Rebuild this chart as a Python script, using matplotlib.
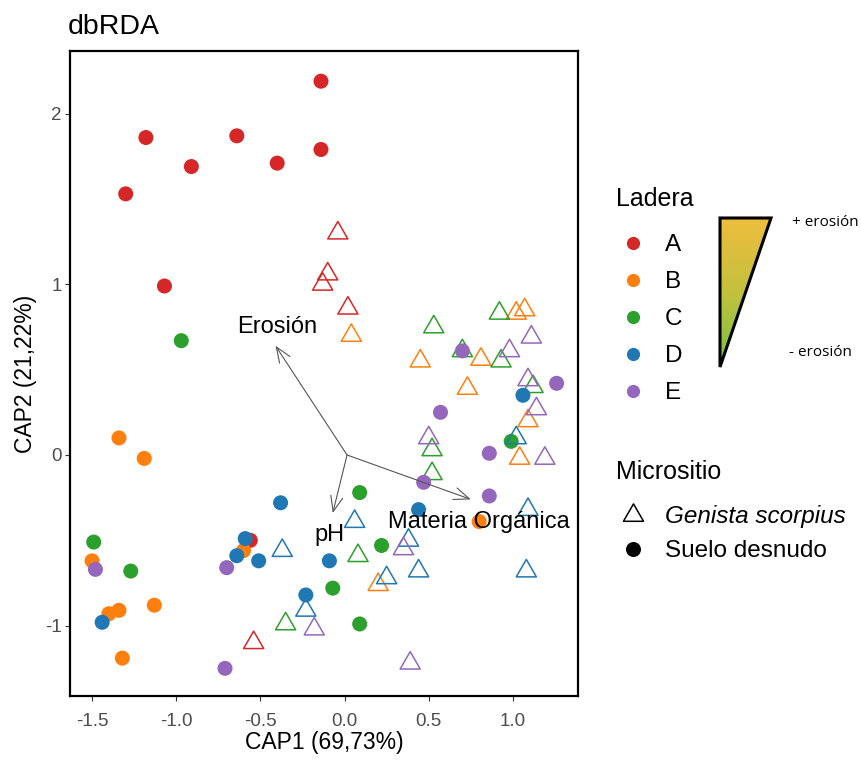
import numpy as np
import matplotlib
matplotlib.use("Agg")
import matplotlib.pyplot as plt
from matplotlib.lines import Line2D
from matplotlib.path import Path
from matplotlib.patches import Polygon
from matplotlib.colors import LinearSegmentedColormap

plt.rcParams['font.family'] = ['Liberation Sans', 'DejaVu Sans']
plt.rcParams['axes.unicode_minus'] = False

# --- data ---
laderas = ['A', 'B', 'C', 'D', 'E']
ladera_colors = {'A': '#d62728', 'B': '#ff7f0e', 'C': '#2ca02c', 'D': '#1f77b4', 'E': '#9467bd'}
micrositios = ['Genista scorpius', 'Suelo desnudo']

ladera = (['A'] * 5 + ['A'] * 9 + ['B'] * 9 + ['B'] * 9 + ['C'] * 9 + ['C'] * 8
          + ['D'] * 9 + ['D'] * 9 + ['E'] * 9 + ['E'] * 9)
micrositio = (['G'] * 5 + ['S'] * 9 + ['G'] * 9 + ['S'] * 9 + ['G'] * 9 + ['S'] * 8
              + ['G'] * 9 + ['S'] * 9 + ['G'] * 9 + ['S'] * 9)
cap1 = [-0.04, -0.10, -0.13, 0.02, -0.54,
        -0.14, -1.18, -0.64, -0.91, -0.40, -0.14, -1.30, -1.07, -0.56,
        0.04, 0.45, 0.81, 0.73, 1.02, 1.07, 1.09, 1.04, 0.20,
        0.80, -1.34, -1.19, -1.50, -1.40, -1.34, -1.13, -1.32, -0.60,
        0.53, 0.92, 0.70, 0.93, 1.12, 0.52, 0.52, 0.08, -0.35,
        -0.97, 0.09, 0.22, -0.07, 0.09, -1.49, -1.27, 0.99,
        1.02, 1.09, 1.08, 0.06, 0.38, 0.44, 0.25, -0.37, -0.23,
        1.06, -0.38, -0.59, -0.64, -0.51, -0.09, -0.23, 0.44, -1.44,
        1.11, 0.98, 1.09, 1.14, 0.50, 1.19, 0.35, -0.18, 0.39,
        1.26, 0.57, 0.70, 0.86, 0.47, 0.86, -0.70, -0.71, -1.48]
cap2 = [1.30, 1.06, 1.00, 0.86, -1.10,
        2.19, 1.86, 1.87, 1.69, 1.71, 1.79, 1.53, 0.99, -0.50,
        0.70, 0.55, 0.56, 0.39, 0.83, 0.85, 0.20, -0.02, -0.76,
        -0.39, 0.10, -0.02, -0.62, -0.93, -0.91, -0.88, -1.19, -0.56,
        0.75, 0.83, 0.61, 0.55, 0.40, 0.03, -0.11, -0.59, -0.99,
        0.67, -0.22, -0.53, -0.78, -0.99, -0.51, -0.68, 0.08,
        0.10, -0.32, -0.68, -0.39, -0.50, -0.68, -0.72, -0.56, -0.91,
        0.35, -0.28, -0.49, -0.59, -0.62, -0.62, -0.82, -0.32, -0.98,
        0.69, 0.61, 0.44, 0.27, 0.10, -0.02, -0.55, -1.02, -1.22,
        0.42, 0.25, 0.61, 0.01, -0.16, -0.24, -0.66, -1.25, -0.67]

# environmental vectors
vec_names = ['Erosión', 'pH', 'Materia Orgánica']
vec_origin = (0.015, 0.0)
vec_x = [-0.41, -0.07, 0.75]
vec_y = [0.64, -0.34, -0.26]
lab_x = [-0.40, -0.09, 0.80]
lab_y = [0.75, -0.47, -0.39]

# equilateral open triangle like ggplot shape 2
tri = Path([(-1, -0.577), (1, -0.577), (0, 1.155), (-1, -0.577)],
           [Path.MOVETO, Path.LINETO, Path.LINETO, Path.CLOSEPOLY])

W, H = 862, 762
fig = plt.figure(figsize=(W / 100, H / 100), dpi=100)
ax = fig.add_axes([70 / W, 66 / H, 508 / W, 645 / H])

x = np.array(cap1)
y = np.array(cap2)
lad = np.array(ladera)
mic = np.array(micrositio)
for l in laderas:
    c = ladera_colors[l]
    m = (lad == l) & (mic == 'G')
    ax.scatter(x[m], y[m], marker=tri, s=280, facecolors='none', edgecolors=c, linewidths=1.1, zorder=2)
    m = (lad == l) & (mic == 'S')
    ax.scatter(x[m], y[m], marker='o', s=117, color=c, edgecolors='none', zorder=2)

for name, vx, vy, tx, ty in zip(vec_names, vec_x, vec_y, lab_x, lab_y):
    ax.annotate('', xy=(vx, vy), xytext=vec_origin,
                arrowprops=dict(arrowstyle='->, head_length=0.55, head_width=0.22',
                                color='#555555', lw=0.8, mutation_scale=20,
                                shrinkA=0, shrinkB=0), zorder=3)
    ax.text(tx, ty, name, ha='center', va='center', fontsize=17, color='black', zorder=4)

ax.set_xlim(-1.631, 1.387)
ax.set_ylim(-1.412, 2.367)
ax.set_xticks([-1.5, -1.0, -0.5, 0.0, 0.5, 1.0])
ax.set_xticklabels(['-1.5', '-1.0', '-0.5', '0.0', '0.5', '1.0'])
ax.set_yticks([-1, 0, 1, 2])
ax.tick_params(direction='out', length=3.5, width=0.8, color='#333333',
               labelcolor='#4D4D4D', labelsize=13.5)
ax.tick_params(axis='x', pad=8.5)
ax.tick_params(axis='y', pad=2.5)
for sp in ax.spines.values():
    sp.set_linewidth(1.6)
    sp.set_color('black')
ax.set_xlabel('CAP1 (69,73%)', fontsize=16.5, labelpad=1)
ax.set_ylabel('CAP2 (21,22%)', fontsize=16.5, labelpad=5.5)
fig.text(68 / W, 1 - 34 / H, 'dbRDA', fontsize=20.5, ha='left', va='baseline')

# legends
h1 = [Line2D([], [], ls='', marker='o', markersize=9.5, color=ladera_colors[l], mec='none') for l in laderas]
leg1 = fig.legend(h1, laderas, title='Ladera', loc='upper left',
                  bbox_to_anchor=(616 / W, 1 - 187 / H), frameon=False, fontsize=17.5,
                  title_fontsize=18, alignment='left', borderpad=0, borderaxespad=0,
                  handlelength=1.4, handletextpad=0.6, labelspacing=0.62)
leg1._legend_box.sep = 16.6  # extra gap between title and keys
h2 = [Line2D([], [], ls='', marker=tri, markersize=16.7, mfc='none', mec='black', mew=1.1),
      Line2D([], [], ls='', marker='o', markersize=10.8, color='black', mec='none')]
leg2 = fig.legend(h2, micrositios, title='Micrositio', loc='upper left',
                  bbox_to_anchor=(616 / W, 1 - 460 / H), frameon=False, fontsize=17.5,
                  title_fontsize=18, alignment='left', borderpad=0, borderaxespad=0,
                  handlelength=1.4, handletextpad=0.6, labelspacing=0.5)
leg2._legend_box.sep = 15.2
leg2.get_texts()[0].set_style('italic')

# erosion gradient wedge
tax = fig.add_axes([720 / W, 1 - 367 / H, 51 / W, 149 / H])
grad = np.linspace(0, 1, 256).reshape(-1, 1)
cmap = LinearSegmentedColormap.from_list('ero', ['#78C143', '#C2C13E', '#EFBE3D'])
im = tax.imshow(grad, cmap=cmap, aspect='auto', extent=[0, 1, 0, 1], origin='lower')
wedge = Polygon([[0, 1], [1, 1], [0, 0]], closed=True, transform=tax.transAxes,
                fc='none', ec='black', lw=2.2, clip_on=False, joinstyle='miter')
tax.add_patch(wedge)
im.set_clip_path(wedge)
tax.set_xlim(0, 1)
tax.set_ylim(0, 1)
tax.axis('off')
fig.text(792 / W, 1 - 222 / H, '+ erosión', fontsize=11, family='Open Sans', ha='left', va='center')
fig.text(789 / W, 1 - 353 / H, '- erosión', fontsize=11, family='Open Sans', ha='left', va='center')

fig.savefig('out.png', dpi=100)
